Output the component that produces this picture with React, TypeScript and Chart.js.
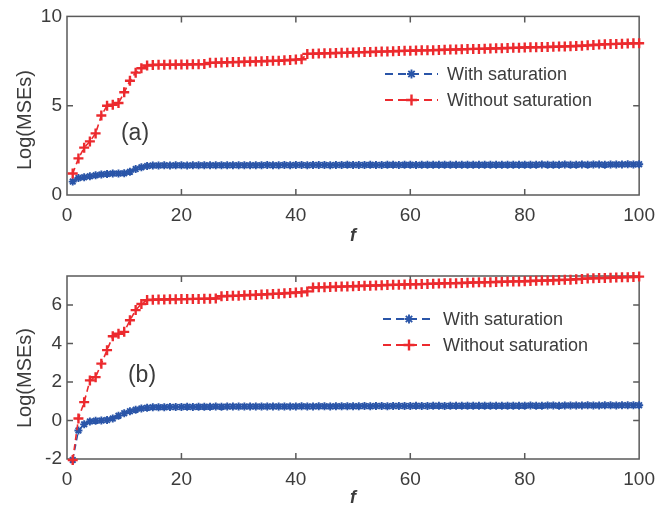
import React, { useEffect, useRef } from "react";
import { Chart, registerables } from "chart.js";

Chart.register(...registerables);

// ---------- data ----------
const fValues = [
  1, 2, 3, 4, 5, 6, 7, 8, 9, 10, 11, 12, 13, 14, 15, 16, 17, 18, 19, 20,
  21, 22, 23, 24, 25, 26, 27, 28, 29, 30, 31, 32, 33, 34, 35, 36, 37, 38, 39, 40,
  41, 42, 43, 44, 45, 46, 47, 48, 49, 50, 51, 52, 53, 54, 55, 56, 57, 58, 59, 60,
  61, 62, 63, 64, 65, 66, 67, 68, 69, 70, 71, 72, 73, 74, 75, 76, 77, 78, 79, 80,
  81, 82, 83, 84, 85, 86, 87, 88, 89, 90, 91, 92, 93, 94, 95, 96, 97, 98, 99, 100,
];

// panel (a)
const aWithSaturation = [
  0.75, 0.95, 1.0, 1.05, 1.1, 1.15, 1.18, 1.2, 1.2, 1.22, 1.3, 1.45, 1.55, 1.62, 1.65,
  1.65, 1.66, 1.65, 1.66, 1.66, 1.65, 1.66, 1.66, 1.67, 1.66, 1.66, 1.67, 1.66, 1.67, 1.67,
  1.67, 1.66, 1.67, 1.67, 1.68, 1.67, 1.67, 1.68, 1.67, 1.68, 1.68, 1.67, 1.68, 1.68, 1.68, 1.67, 1.68, 1.68, 1.69, 1.68,
  1.68, 1.68, 1.69, 1.68, 1.68, 1.69, 1.69, 1.68, 1.69, 1.69, 1.68, 1.69, 1.69, 1.69, 1.7, 1.69, 1.69, 1.69, 1.7, 1.69,
  1.69, 1.7, 1.69, 1.7, 1.7, 1.69, 1.7, 1.7, 1.7, 1.69, 1.7, 1.7, 1.71, 1.7, 1.7, 1.7, 1.71, 1.7, 1.7, 1.71,
  1.7, 1.71, 1.71, 1.7, 1.71, 1.71, 1.71, 1.72, 1.71, 1.72,
];
const aWithoutSaturation = [
  1.2, 2.05, 2.65, 3.0, 3.45, 4.45, 5.0, 5.05, 5.15, 5.75, 6.4, 6.85, 7.1, 7.25, 7.28,
  7.29, 7.29, 7.3, 7.3, 7.31, 7.31, 7.32, 7.32, 7.33,
  7.4, 7.41, 7.42, 7.43, 7.44, 7.45, 7.46, 7.47, 7.48, 7.49, 7.5, 7.51, 7.52, 7.54, 7.56, 7.58, 7.6,
  7.9, 7.91, 7.92, 7.93, 7.94, 7.95, 7.96, 7.97, 7.98, 7.99, 8.0, 8.01, 8.02, 8.03, 8.04, 8.05, 8.06,
  8.07, 8.08, 8.09, 8.1, 8.1, 8.11, 8.12, 8.13, 8.14, 8.15, 8.16, 8.17, 8.18, 8.18, 8.19, 8.2, 8.21,
  8.22, 8.23, 8.24, 8.25, 8.26, 8.27, 8.27, 8.28, 8.29, 8.3, 8.31, 8.32, 8.33, 8.34, 8.36, 8.38,
  8.4, 8.42, 8.44, 8.45, 8.46, 8.47, 8.48, 8.49, 8.5,
];

// panel (b)
const bWithSaturation = [
  -2.05, -0.52, -0.2, -0.05, -0.02, 0.0, 0.02, 0.1, 0.25, 0.38, 0.48, 0.56, 0.62, 0.66, 0.68,
  0.69, 0.69, 0.7, 0.7, 0.7, 0.71, 0.7, 0.71, 0.71, 0.71, 0.72, 0.71, 0.72, 0.72, 0.72,
  0.72, 0.72, 0.73, 0.72, 0.73, 0.73, 0.73, 0.72, 0.73, 0.73, 0.74, 0.73, 0.73, 0.74, 0.74, 0.73, 0.74, 0.74, 0.74, 0.74,
  0.74, 0.75, 0.74, 0.75, 0.75, 0.74, 0.75, 0.75, 0.75, 0.75, 0.76, 0.75, 0.75, 0.76, 0.76, 0.75, 0.76, 0.76, 0.76, 0.76,
  0.76, 0.77, 0.76, 0.77, 0.77, 0.76, 0.77, 0.77, 0.77, 0.77, 0.78, 0.77, 0.77, 0.78, 0.78, 0.77, 0.78, 0.78, 0.78, 0.78,
  0.79, 0.78, 0.78, 0.79, 0.79, 0.78, 0.79, 0.79, 0.79, 0.79,
];
const bWithoutSaturation = [
  -2.05, 0.1, 0.95, 2.08, 2.25, 2.95, 3.65, 4.37, 4.5, 4.6, 5.2, 5.73, 6.05, 6.25,
  6.27, 6.28, 6.28, 6.29, 6.29, 6.3, 6.3, 6.31, 6.31, 6.32, 6.32, 6.33,
  6.45, 6.46, 6.47, 6.48, 6.5, 6.51, 6.52, 6.54, 6.55, 6.57, 6.58, 6.6, 6.62, 6.64, 6.66, 6.7,
  6.9, 6.91, 6.92, 6.93, 6.94, 6.95, 6.96, 6.97, 6.98, 6.99, 7.0, 7.01, 7.02, 7.03, 7.04, 7.05,
  7.06, 7.07, 7.07, 7.08, 7.09, 7.1, 7.11, 7.12, 7.12, 7.13,
  7.14, 7.15, 7.16, 7.17, 7.17, 7.18, 7.19, 7.2, 7.21, 7.22,
  7.22, 7.23, 7.24, 7.25, 7.26, 7.27, 7.28, 7.29, 7.3, 7.31,
  7.33, 7.35, 7.37, 7.38, 7.39, 7.4, 7.41, 7.42, 7.43, 7.44, 7.45, 7.47,
];

const xTicks = [0, 20, 40, 60, 80, 100];
const aYTicks = [0, 5, 10];
const bYTicks = [-2, 0, 2, 4, 6];
const seriesLabels = ["With saturation", "Without saturation"];
const panelLabels = ["(a)", "(b)"];
const xTitle = "f";
const yTitle = "Log(MSEs)";

// ---------- style ----------
const FAMILY = '"Liberation Sans", Arial, Helvetica, sans-serif';
const TEXT = "#3c3c3c";
const AXIS = "#5a5a5a";
const BLUE = "#2a55a8";
const RED = "#ec2a2e";

function drawMarker(ctx: CanvasRenderingContext2D, style: string, cx: number, cy: number, r: number) {
  ctx.beginPath();
  ctx.moveTo(cx - r, cy);
  ctx.lineTo(cx + r, cy);
  ctx.moveTo(cx, cy - r);
  ctx.lineTo(cx, cy + r);
  if (style === "star") {
    const d = r * Math.SQRT1_2;
    ctx.moveTo(cx - d, cy - d);
    ctx.lineTo(cx + d, cy + d);
    ctx.moveTo(cx - d, cy + d);
    ctx.lineTo(cx + d, cy - d);
  }
  ctx.stroke();
}

const framePlugin = {
  id: "frame",
  beforeDatasetsDraw(chart: any) {
    const { ctx, chartArea } = chart;
    const { left, right, top, bottom } = chartArea;
    const xs = chart.scales.x;
    const ys = chart.scales.y;
    const L = 6;
    ctx.save();
    ctx.strokeStyle = AXIS;
    ctx.lineWidth = 1.5;
    ctx.setLineDash([]);
    ctx.strokeRect(left, top, right - left, bottom - top);
    ctx.beginPath();
    xs.ticks.forEach((t: any) => {
      const px = xs.getPixelForValue(t.value);
      if (px <= left + 1 || px >= right - 1) return;
      ctx.moveTo(px, bottom);
      ctx.lineTo(px, bottom - L);
      ctx.moveTo(px, top);
      ctx.lineTo(px, top + L);
    });
    ys.ticks.forEach((t: any) => {
      const py = ys.getPixelForValue(t.value);
      if (py <= top + 1 || py >= bottom - 1) return;
      ctx.moveTo(left, py);
      ctx.lineTo(left + L, py);
      ctx.moveTo(right, py);
      ctx.lineTo(right - L, py);
    });
    ctx.stroke();
    ctx.restore();
  },
};

const annotPlugin = {
  id: "annot",
  afterDraw(chart: any, _args: any, opts: any) {
    const ctx: CanvasRenderingContext2D = chart.ctx;
    ctx.save();
    ctx.fillStyle = TEXT;
    ctx.textAlign = "center";
    ctx.textBaseline = "middle";
    // y title
    ctx.save();
    ctx.font = `20px ${FAMILY}`;
    ctx.translate(opts.yTitleX, opts.yTitleY);
    ctx.rotate(-Math.PI / 2);
    ctx.fillText(yTitle, 0, 0);
    ctx.restore();
    // panel label
    ctx.font = `23px ${FAMILY}`;
    ctx.fillText(opts.panel, opts.panelX, opts.panelY);
    // legend
    const order = [0, 1];
    order.forEach((i, row) => {
      const ds = chart.data.datasets[i];
      const y = opts.legY[row];
      ctx.save();
      ctx.strokeStyle = ds.borderColor;
      ctx.lineWidth = 1.8;
      ctx.setLineDash([8, 5]);
      ctx.beginPath();
      ctx.moveTo(opts.legX1, y);
      ctx.lineTo(opts.legX2, y);
      ctx.stroke();
      ctx.setLineDash([]);
      ctx.lineWidth = ds.pointBorderWidth;
      drawMarker(ctx, ds.pointStyle, (opts.legX1 + opts.legX2) / 2, y, ds.pointRadius + 0.5);
      ctx.restore();
      ctx.font = `18px ${FAMILY}`;
      ctx.textAlign = "left";
      ctx.fillStyle = TEXT;
      ctx.fillText(ds.label, opts.legTX, y + 1);
      ctx.textAlign = "center";
    });
    ctx.restore();
  },
};

type PanelProps = {
  top: number;
  height: number;
  withVals: number[];
  withoutVals: number[];
  yMin: number;
  yMax: number;
  yTicks: number[];
  padTop: number;
  xAxisH: number;
  titlePadBottom: number;
  annot: any;
};

function Panel(p: PanelProps) {
  const ref = useRef<HTMLCanvasElement>(null);
  useEffect(() => {
    const tickFont = { family: FAMILY, size: 19 };
    const chart = new Chart(ref.current as HTMLCanvasElement, {
      type: "line",
      data: {
        datasets: [
          {
            label: seriesLabels[0],
            data: fValues.map((f, i) => ({ x: f, y: p.withVals[i] })),
            borderColor: BLUE,
            backgroundColor: BLUE,
            borderWidth: 1.5,
            borderDash: [6, 4],
            pointStyle: "star",
            pointRadius: 4,
            pointBorderWidth: 1.9,
            pointBorderColor: BLUE,
            pointBackgroundColor: BLUE,
            order: 1,
            clip: false,
          } as any,
          {
            label: seriesLabels[1],
            data: fValues.map((f, i) => ({ x: f, y: p.withoutVals[i] })),
            borderColor: RED,
            backgroundColor: RED,
            borderWidth: 1.6,
            borderDash: [6, 4],
            pointStyle: "cross",
            pointRadius: 5,
            pointBorderWidth: 2.4,
            pointBorderColor: RED,
            pointBackgroundColor: RED,
            order: 0,
            clip: false,
          } as any,
        ],
      },
      options: {
        responsive: false,
        animation: false,
        events: [],
        layout: { padding: { top: p.padTop, right: 23, left: 0, bottom: 0 } },
        plugins: {
          legend: { display: false },
          tooltip: { enabled: false },
          annot: p.annot,
        } as any,
        scales: {
          x: {
            type: "linear",
            min: 0,
            max: 100,
            afterBuildTicks: (s: any) => {
              s.ticks = xTicks.map((v) => ({ value: v }));
            },
            afterFit: (s: any) => {
              s.height = p.xAxisH;
            },
            grid: { display: false, drawTicks: false },
            border: { display: false },
            ticks: { font: tickFont, color: TEXT, padding: 9, maxRotation: 0 },
            title: {
              display: true,
              text: xTitle,
              color: TEXT,
              font: { family: FAMILY, size: 18, style: "italic", weight: "bold" },
              padding: { top: 0, bottom: p.titlePadBottom },
            },
          },
          y: {
            type: "linear",
            min: p.yMin,
            max: p.yMax,
            afterBuildTicks: (s: any) => {
              s.ticks = p.yTicks.map((v) => ({ value: v }));
            },
            afterFit: (s: any) => {
              s.width = 67;
            },
            grid: { display: false, drawTicks: false },
            border: { display: false },
            ticks: { font: tickFont, color: TEXT, padding: 5 },
          },
        },
      } as any,
      plugins: [framePlugin, annotPlugin],
    });
    return () => chart.destroy();
  }, []);
  return (
    <canvas
      ref={ref}
      width={664}
      height={p.height}
      style={{ position: "absolute", left: 0, top: p.top, display: "block", width: 664, height: p.height }}
    />
  );
}

export default function App() {
  return (
    <div style={{ position: "absolute", left: 0, top: 0, width: 664, height: 513, background: "#fff", overflow: "hidden" }}>
      <Panel
        top={0}
        height={250}
        withVals={aWithSaturation}
        withoutVals={aWithoutSaturation}
        yMin={0}
        yMax={10}
        yTicks={aYTicks}
        padTop={13}
        xAxisH={55}
        titlePadBottom={3}
        annot={{
          yTitleX: 25,
          yTitleY: 120,
          panel: panelLabels[0],
          panelX: 135,
          panelY: 134,
          legY: [74, 100],
          legX1: 385,
          legX2: 438,
          legTX: 447,
        }}
      />
      <Panel
        top={250}
        height={263}
        withVals={bWithSaturation}
        withoutVals={bWithoutSaturation}
        yMin={-2}
        yMax={7.5}
        yTicks={bYTicks}
        padTop={26}
        xAxisH={54}
        titlePadBottom={4}
        annot={{
          yTitleX: 25,
          yTitleY: 128,
          panel: panelLabels[1],
          panelX: 142,
          panelY: 126,
          legY: [69, 95],
          legX1: 383,
          legX2: 435,
          legTX: 443,
        }}
      />
    </div>
  );
}
